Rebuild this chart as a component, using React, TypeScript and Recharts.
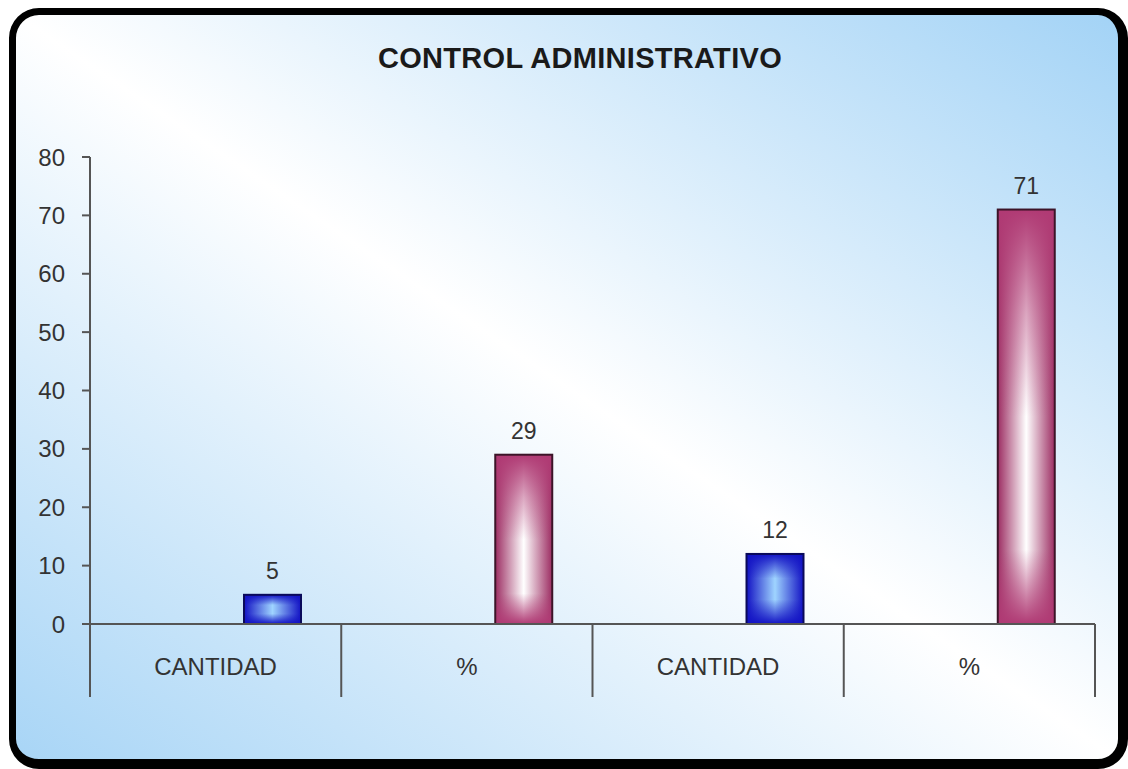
import React from "react";
import { BarChart, Bar, XAxis, YAxis, LabelList } from "recharts";

// valores
const categorias = ["CANTIDAD", "%", "CANTIDAD", "%"];
const valores = [5, 29, 12, 71];
const tipos = ["azul", "vino", "azul", "vino"];
const ticksY = [0, 10, 20, 30, 40, 50, 60, 70, 80];

const data = categorias.map((c, i) => ({ name: c, valor: valores[i], tipo: tipos[i] }));

const W = 1128;
const H = 769;
const margin = { top: 157, right: 33, bottom: 65, left: 30 };
const yAxisWidth = 60;
const plotW = W - margin.left - margin.right - yAxisWidth;
const halfBand = plotW / categorias.length / 2;

const CategoryTick = (props: any) => {
  const { x, y, payload, index } = props;
  const left = x - halfBand;
  const right = x + halfBand;
  const last = index === categorias.length - 1;
  return (
    <g>
      <line x1={left} y1={y} x2={left} y2={y + 73} stroke="#555" strokeWidth={2} />
      {last && <line x1={right} y1={y} x2={right} y2={y + 73} stroke="#555" strokeWidth={2} />}
      <text x={x} y={y + 34} dy="0.71em" textAnchor="middle" fill="#333" fontSize={24}
        fontFamily="'Liberation Sans', Arial, sans-serif">
        {payload.value}
      </text>
    </g>
  );
};

const GradBar = (props: any) => {
  const { x, y, width, height, index } = props;
  if (!height || height <= 0) return null;
  const k = tipos[index];
  const borde = k === "azul" ? "#0a0a5a" : "#3c1428";
  return (
    <g>
      <rect x={x} y={y} width={width} height={height} fill={`url(#h-${k})`} />
      <rect x={x} y={y} width={width} height={height} fill={`url(#v-${k})`} />
      <rect x={x} y={y} width={width} height={height} fill="none" stroke={borde} strokeWidth={2} />
    </g>
  );
};

export default function App() {
  return (
    <div style={{ position: "absolute", left: 0, top: 0, width: W, height: H, background: "#fff" }}>
      <svg width={0} height={0} style={{ position: "absolute" }}>
        <defs>
          <linearGradient id="h-azul" x1="0" y1="0" x2="1" y2="0">
            <stop offset="0%" stopColor="#1212c4" />
            <stop offset="50%" stopColor="#9fd4ff" />
            <stop offset="100%" stopColor="#1212c4" />
          </linearGradient>
          <linearGradient id="v-azul" x1="0" y1="0" x2="0" y2="1">
            <stop offset="0%" stopColor="#1212c4" stopOpacity={1} />
            <stop offset="35%" stopColor="#1212c4" stopOpacity={0} />
            <stop offset="65%" stopColor="#1212c4" stopOpacity={0} />
            <stop offset="100%" stopColor="#1212c4" stopOpacity={1} />
          </linearGradient>
          <linearGradient id="h-vino" x1="0" y1="0" x2="1" y2="0">
            <stop offset="0%" stopColor="#9c2d62" />
            <stop offset="50%" stopColor="#ffffff" />
            <stop offset="100%" stopColor="#9c2d62" />
          </linearGradient>
          <linearGradient id="v-vino" x1="0" y1="0" x2="0" y2="1">
            <stop offset="0%" stopColor="#b03a74" stopOpacity={1} />
            <stop offset="25%" stopColor="#b03a74" stopOpacity={0.45} />
            <stop offset="50%" stopColor="#b03a74" stopOpacity={0} />
            <stop offset="82%" stopColor="#b03a74" stopOpacity={0} />
            <stop offset="100%" stopColor="#b03a74" stopOpacity={1} />
          </linearGradient>
        </defs>
      </svg>

      {/* marco redondeado con fondo degradado */}
      <div
        style={{
          position: "absolute",
          left: 9,
          top: 8,
          width: 1119,
          height: 761,
          boxSizing: "border-box",
          border: "7px solid #000",
          borderRightWidth: 10,
          borderBottomWidth: 10,
          borderRadius: 30,
          background: "linear-gradient(to bottom left, #a3d3f6 0%, #ffffff 50%, #a8d5f6 100%)",
        }}
      />

      <div
        style={{
          position: "absolute",
          left: 0,
          top: 44,
          width: 1160,
          textAlign: "center",
          fontFamily: "'Liberation Sans', Arial, sans-serif",
          fontWeight: "bold",
          fontSize: 29,
          lineHeight: "29px",
          letterSpacing: 0.3,
          color: "#1a1a1a",
        }}
      >
        CONTROL ADMINISTRATIVO
      </div>

      <div style={{ position: "absolute", left: 0, top: 0 }}>
        <BarChart width={W} height={H} data={data} margin={margin} barCategoryGap={40} barGap={0}>
          <XAxis
            dataKey="name"
            interval={0}
            height={80}
            tickLine={false}
            tickSize={0}
            tickMargin={0}
            axisLine={{ stroke: "#555", strokeWidth: 2 }}
            tick={<CategoryTick />}
          />
          <YAxis
            width={yAxisWidth}
            domain={[0, 80]}
            ticks={ticksY}
            interval={0}
            tickSize={8}
            tickMargin={17}
            axisLine={{ stroke: "#555", strokeWidth: 2 }}
            tickLine={{ stroke: "#555", strokeWidth: 2 }}
            tick={{ fill: "#333", fontSize: 24, fontFamily: "'Liberation Sans', Arial, sans-serif" }}
          />
          <Bar dataKey="vacio1" isAnimationActive={false} />
          <Bar dataKey="vacio2" isAnimationActive={false} />
          <Bar dataKey="valor" isAnimationActive={false} shape={<GradBar />}>
            <LabelList
              dataKey="valor"
              position="top"
              offset={16}
              fill="#333"
              fontSize={23}
              fontFamily="'Liberation Sans', Arial, sans-serif"
            />
          </Bar>
        </BarChart>
      </div>
    </div>
  );
}
